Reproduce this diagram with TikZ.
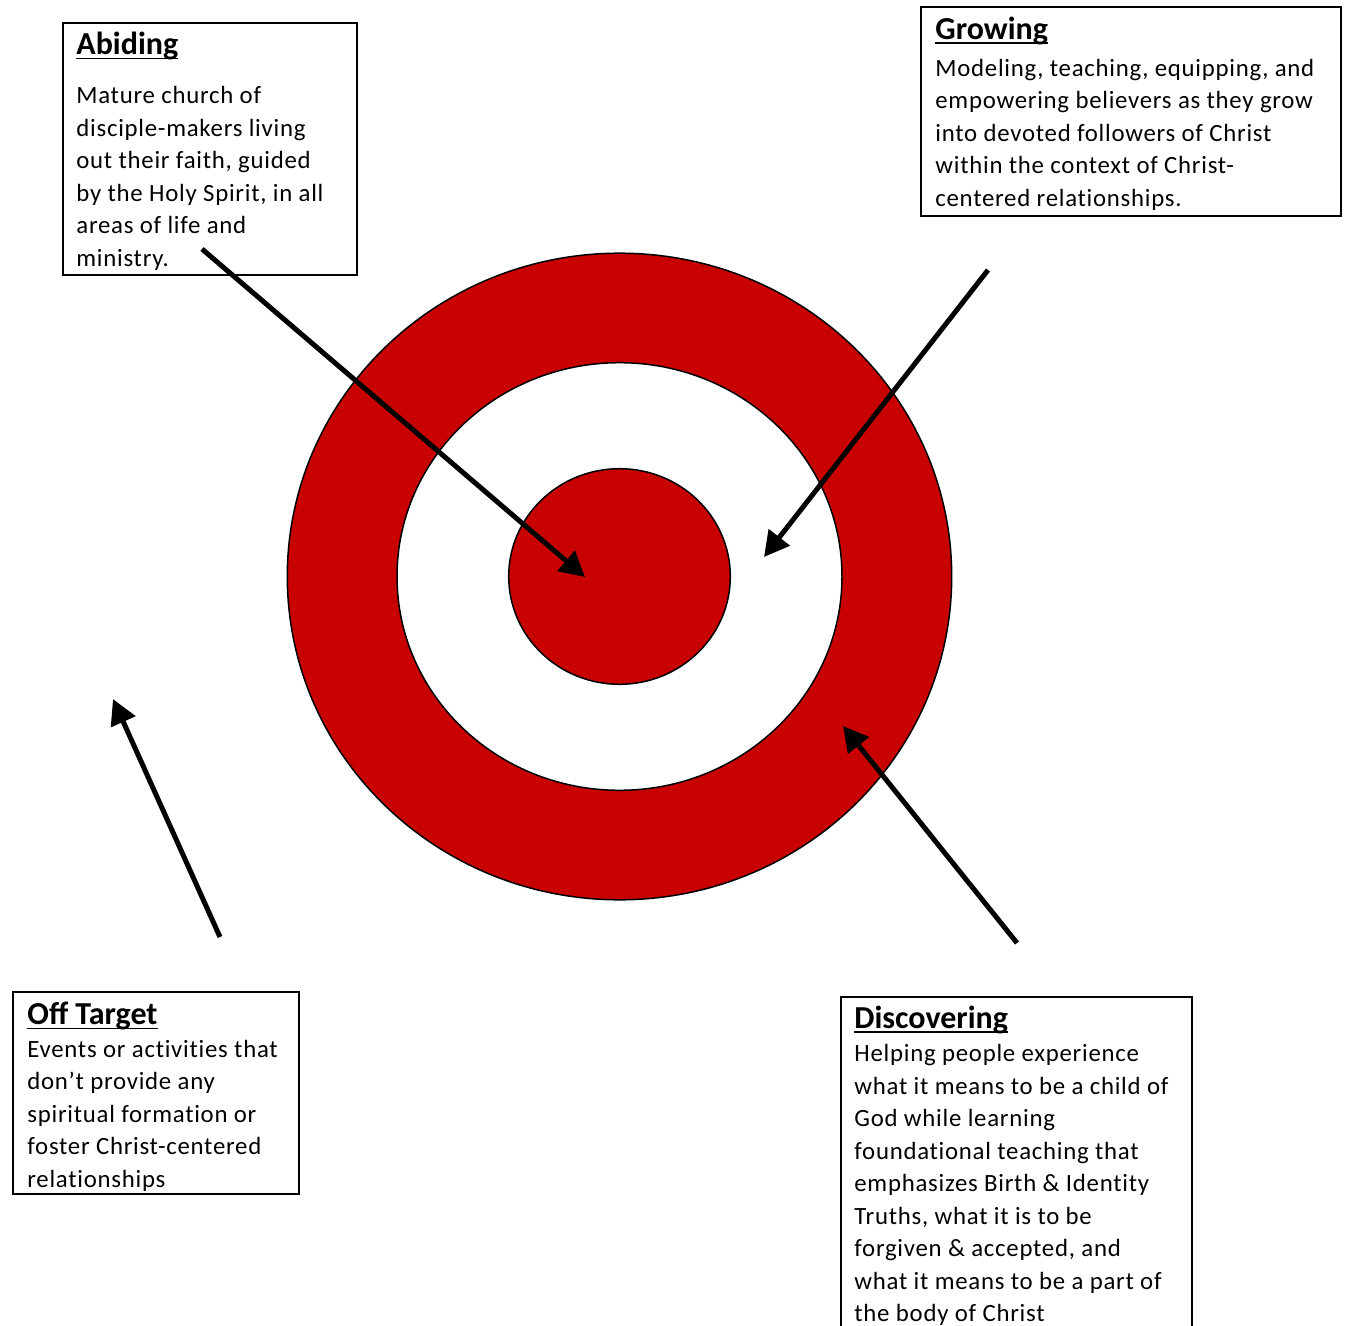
\documentclass[tikz,border=0pt]{standalone}
\usepackage{fontspec}
\setmainfont{Carlito}
\newfontfamily\bodyfont{Carlito}[LetterSpace=3.0,Ligatures=NoCommon]
\usetikzlibrary{arrows.meta,positioning}
\definecolor{targetred}{RGB}{200,0,0}
\newcommand{\boxtitle}[1]{\sbox0{\rmfamily\fontsize{16}{19}\selectfont\bfseries #1}%
\rule{0pt}{13pt}\rlap{\copy0}\rule[-2.2pt]{\wd0}{0.7pt}}

\begin{document}
\begin{tikzpicture}[x=0.5pt,y=-0.5pt]
\tikzstyle{frame} = [draw, line width=1pt, fill=white, anchor=north west, inner sep=0pt]
\tikzstyle{words} = [anchor=north west, inner sep=0pt, align=left, font=\bodyfont\fontsize{12.4}{16.25}\selectfont]
\tikzstyle{line} = [draw, line width=2.5pt, -{Triangle[length=12.5pt,width=13pt]}]
\tikzstyle{ring} = [draw, line width=0.75pt]

\useasboundingbox (0,0) rectangle (1348,1326);

% target
\coordinate (centre) at (619.5,576.5);
\draw[ring, fill=targetred] (centre) ellipse [x radius=332.2, y radius=323.3];
\draw[ring, fill=white] (centre) ellipse [x radius=222.5, y radius=213.8];
\draw[ring, fill=targetred] (centre) ellipse [x radius=110.8, y radius=107.8];

% boxes
\node[frame, minimum width=147pt, minimum height=126pt] (Abiding) at (62,22) {};
\node[words, below right=3.2pt and 7pt of Abiding.north west] (AbidingText)
{\boxtitle{Abiding}\\[8.25pt]
Mature church of \\
disciple-makers living \\
out their faith, guided \\
by the Holy Spirit, in all \\
areas of life and \\
ministry.};

\node[frame, minimum width=210pt, minimum height=104.5pt] (Growing) at (920,6) {};
\node[words, below right=3.5pt and 7.5pt of Growing.north west] (GrowingText)
{\boxtitle{Growing}\\[2.25pt]
Modeling, teaching, equipping, and \\
empowering believers as they grow \\
into devoted followers of Christ \\
within the context of Christ- \\
centered relationships.};

\node[frame, minimum width=143pt, minimum height=101pt] (OffTarget) at (12,991) {};
\node[words, below right=3.6pt and 7.5pt of OffTarget.north west] (OffTargetText)
{\boxtitle{Off Target}\\
Events or activities that \\
don’t provide any \\
spiritual formation or \\
foster Christ-centered \\
relationships};

\node[frame, minimum width=175.5pt, minimum height=200pt] (Discovering) at (840,996) {};
\node[words, below right=3pt and 7pt of Discovering.north west] (DiscoveringText)
{\boxtitle{Discovering}\\[0.5pt]
Helping people experience \\
what it means to be a child of \\
God while learning \\
foundational teaching that \\
emphasizes Birth \& Identity \\
Truths, what it is to be \\
forgiven \& accepted, and \\
what it means to be a part of \\
the body of Christ};

% arrows
\coordinate (AbidingFrom) at (202,249);
\coordinate (AbidingTo) at (585,577);
\coordinate (GrowingFrom) at (988,270);
\coordinate (GrowingTo) at (764,557);
\coordinate (DiscoveringFrom) at (1017,943);
\coordinate (DiscoveringTo) at (843,726);
\coordinate (OffTargetFrom) at (220,937);
\coordinate (OffTargetTo) at (113,699);

\path[line] (AbidingFrom) -- (AbidingTo);
\path[line] (GrowingFrom) -- (GrowingTo);
\path[line] (DiscoveringFrom) -- (DiscoveringTo);
\path[line] (OffTargetFrom) -- (OffTargetTo);

\end{tikzpicture}
\end{document}
